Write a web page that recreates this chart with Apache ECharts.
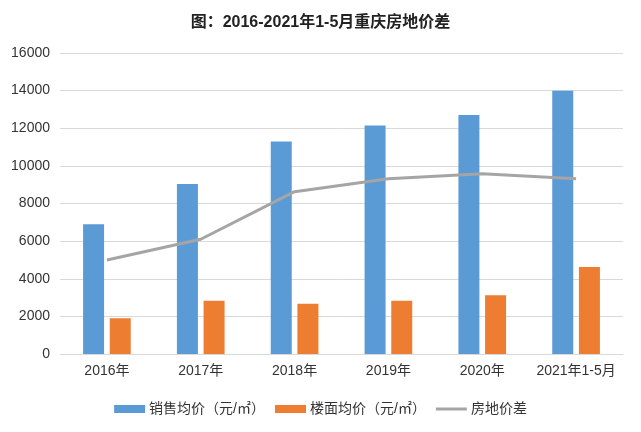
<!DOCTYPE html>
<html><head><meta charset="utf-8">
<script src="https://cdn.jsdelivr.net/npm/echarts@6/dist/echarts.min.js"></script>
<style>html,body{margin:0;padding:0;background:#fff}#c{width:641px;height:432px}</style>
</head><body><div id="c"></div>
<script>
const categories = ['2016年','2017年','2018年','2019年','2020年','2021年1-5月'];
const salePrice = [6900, 9040, 11300, 12150, 12700, 14000];
const landPrice = [1900, 2830, 2670, 2830, 3120, 4630];
const priceGap = [5000, 6100, 8630, 9320, 9580, 9320];
const seriesNames = ['销售均价（元/㎡）','楼面均价（元/㎡）','房地价差'];
const titleText = '图：2016-2021年1-5月重庆房地价差';

const FONT = '"Liberation Sans","Noto Sans CJK SC",sans-serif';
const LINE_ICON = 'path://M0,0h0.05v0.05h-0.05z M0,2.6h31v2.8h-31z M0,7.95h0.05v0.05h-0.05z';
const chart = echarts.init(document.getElementById('c'), null, {renderer:'canvas'});
chart.setOption({
  animation:false,
  backgroundColor:'#fff',
  textStyle:{fontFamily:FONT},
  title:{text:titleText,left:'center',top:10,textStyle:{fontSize:16,fontWeight:'bold',color:'#222',fontFamily:FONT}},
  legend:{top:397,left:'center',itemGap:10,itemWidth:31,itemHeight:8,
    textStyle:{fontSize:14,color:'#333',fontFamily:FONT,padding:[0,0,0,-1]},
    data:[{name:seriesNames[0],icon:'rect'},{name:seriesNames[1],icon:'rect'},
          {name:seriesNames[2],icon:LINE_ICON,itemStyle:{color:'#A5A5A5'}}]},
  grid:{left:60,right:18,top:53,bottom:78,containLabel:false},
  xAxis:{type:'category',data:categories,
    axisLine:{lineStyle:{color:'#d9d9d9',width:1}},axisTick:{show:false},
    axisLabel:{color:'#333',fontSize:14,margin:10,interval:0,fontFamily:FONT}},
  yAxis:{type:'value',min:0,max:16000,interval:2000,
    axisLine:{show:false},axisTick:{show:false},
    splitLine:{lineStyle:{color:'#d9d9d9',width:1}},
    axisLabel:{color:'#333',fontSize:14,margin:10,fontFamily:FONT,formatter:function(v){return String(v);}}},
  series:[
    {name:seriesNames[0],type:'bar',data:salePrice,barWidth:21,barGap:'27%',itemStyle:{color:'#5B9BD5'}},
    {name:seriesNames[1],type:'bar',data:landPrice,barWidth:21,itemStyle:{color:'#ED7D31'}},
    {name:seriesNames[2],type:'line',data:priceGap,symbol:'none',lineStyle:{color:'#A5A5A5',width:3},itemStyle:{color:'#A5A5A5'}}
  ]
});
</script></body></html>
